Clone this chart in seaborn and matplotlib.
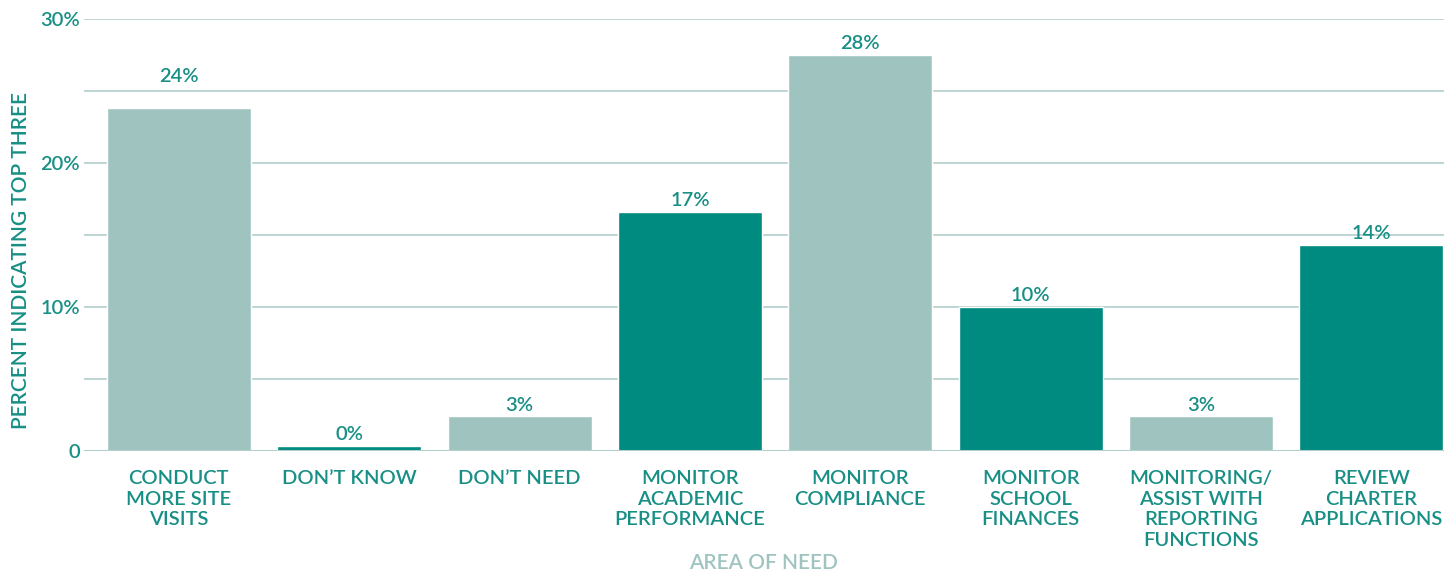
import pandas as pd
import matplotlib.pyplot as plt
import seaborn as sns


categories = [
    "CONDUCT\nMORE SITE\nVISITS",
    "DON\u2019T KNOW",
    "DON\u2019T NEED",
    "MONITOR\nACADEMIC\nPERFORMANCE",
    "MONITOR\nCOMPLIANCE",
    "MONITOR\nSCHOOL\nFINANCES",
    "MONITORING/\nASSIST WITH\nREPORTING\nFUNCTIONS",
    "REVIEW\nCHARTER\nAPPLICATIONS",
]
values = [23.8, 0.35, 2.4, 16.6, 27.5, 10.0, 2.4, 14.3]
labels = ["24%", "0%", "3%", "17%", "28%", "10%", "3%", "14%"]
y_ticks = [0, 10, 20, 30]
y_tick_labels = ["0", "10%", "20%", "30%"]

LIGHT = "#9fc4c0"
DARK = "#008b80"
TEXT = "#178f85"
GRID = "#b3cfcc"


def main():
    df = pd.DataFrame({"area": categories, "pct": values})
    palette = [LIGHT if i % 2 == 0 else DARK for i in range(len(categories))]

    fig = plt.figure(figsize=(14.48, 5.75), dpi=100)
    ax = fig.add_axes([0.058, 0.2157, 0.939, 0.7513])

    sns.barplot(data=df, x="area", y="pct", hue="area", palette=palette,
                legend=False, width=0.845, saturation=1, ax=ax, zorder=3)

    ax.set_xlim(-0.557, 7.425)
    ax.set_ylim(0, 30)
    ax.set_yticks(y_ticks)
    ax.set_yticklabels(y_tick_labels)
    for y in range(5, 31, 5):
        ax.axhline(y, color=GRID, lw=1.2, zorder=1)
    ax.axhline(0, color=GRID, lw=1.5, zorder=4)

    # the first label sits higher in the original
    for i, (v, lab) in enumerate(zip(values, labels)):
        off = 17 if i == 0 else 2
        ax.annotate(lab, (i, v), xytext=(0, off), textcoords="offset points",
                    ha="center", va="bottom", fontsize=14.5, color=TEXT,
                    fontweight="semibold")

    ax.tick_params(axis="both", length=0, colors=TEXT, labelsize=14.5)
    ax.tick_params(axis="x", pad=14)
    ax.tick_params(axis="y", pad=3)
    for t in ax.get_xticklabels() + ax.get_yticklabels():
        t.set_fontweight("semibold")
    for t in ax.get_xticklabels():
        t.set_linespacing(1.25)
        t.set_va("top")
    for s in ax.spines.values():
        s.set_visible(False)

    ax.set_xlabel("AREA OF NEED", color=LIGHT, fontsize=15, fontweight="semibold",
                  labelpad=3)
    ax.set_ylabel("PERCENT INDICATING TOP THREE", color=TEXT, fontsize=15,
                  fontweight="semibold")
    ax.yaxis.set_label_coords(-0.039, 0.442)

    fig.savefig("out.png", dpi=100)


if __name__ == "__main__":
    sns.set_style("white")
    plt.rcParams["font.family"] = ["Lato", "DejaVu Sans"]
    main()
